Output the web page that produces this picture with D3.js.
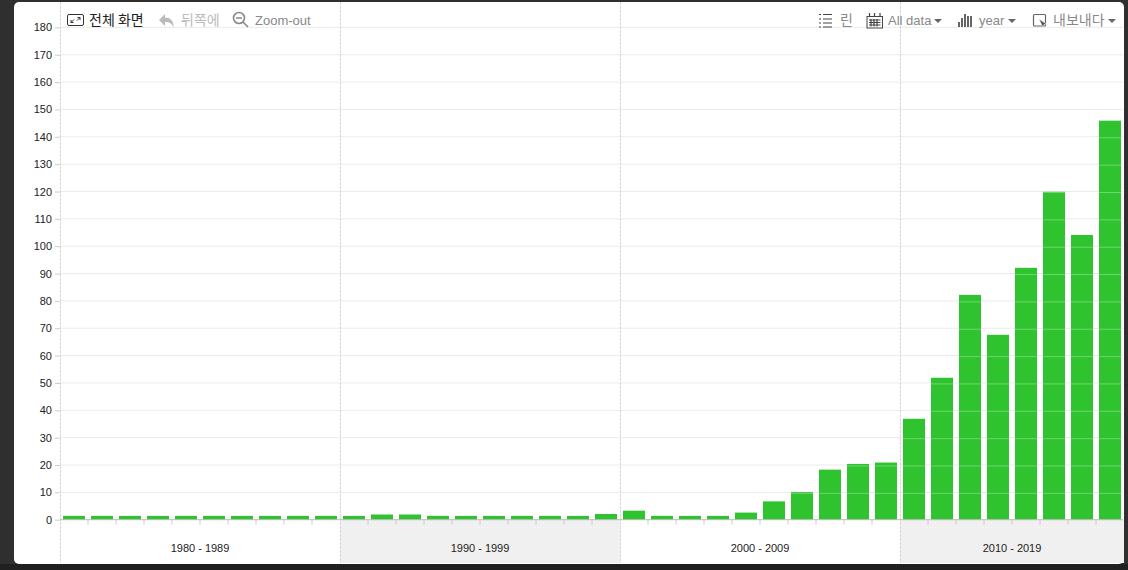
<!DOCTYPE html>
<html>
<head>
<meta charset="utf-8">
<script src="https://cdnjs.cloudflare.com/ajax/libs/d3/7.8.5/d3.min.js"></script>
<style>
  html, body { margin: 0; padding: 0; background: #2f2f2f; overflow: hidden; }
  text { font-family: "Liberation Sans", Arial, sans-serif; }
  .kr { font-family: "Noto Sans CJK KR", sans-serif; }
</style>
</head>
<body>
<div id="canvas"></div>
<script>
// data
const years = d3.range(1980, 2018);
const counts = [
  1.4, 1.4, 1.4, 1.4, 1.4, 1.4, 1.4, 1.4, 1.4, 1.4,
  1.4, 1.9, 1.9, 1.4, 1.4, 1.4, 1.4, 1.4, 1.4, 2.1,
  3.3, 1.4, 1.4, 1.4, 2.6, 6.7, 10.1, 18.3, 20.4, 20.9,
  36.9, 51.9, 82.2, 67.6, 92.1, 119.9, 104.1, 145.9
];
const yTicks = d3.range(0, 190, 10);
const decadeLabels = ['1980 - 1989', '1990 - 1999', '2000 - 2009', '2010 - 2019'];
const decadeStarts = [1980, 1990, 2000, 2010];
const decadeEnds = [1989, 1999, 2009, 2017];

const width = 1128, height = 570;

const svg = d3.select('#canvas').append('svg')
  .attr('width', width)
  .attr('height', height)
  .style('display', 'block');

const defs = svg.append('defs');

// dotted grey of the alternate decade bands
const dots = defs.append('pattern')
  .attr('id', 'dots')
  .attr('width', 4).attr('height', 4)
  .attr('patternUnits', 'userSpaceOnUse');
dots.append('rect').attr('width', 4).attr('height', 4).attr('fill', '#efefef');
dots.append('rect').attr('x', 1).attr('y', 1).attr('width', 1).attr('height', 1).attr('fill', '#f8f8f8');
dots.append('rect').attr('x', 3).attr('y', 3).attr('width', 1).attr('height', 1).attr('fill', '#f8f8f8');

// window background
svg.append('rect').attr('width', width).attr('height', height).attr('fill', '#2f2f2f');
svg.append('rect').attr('y', 564).attr('width', width).attr('height', 6).attr('fill', '#202020');
svg.append('rect')
  .attr('x', 14).attr('y', 2)
  .attr('width', 1110).attr('height', 562)
  .attr('rx', 5)
  .attr('fill', '#fff');

const x = d3.scaleBand()
  .domain(years)
  .range([60, 1124])
  .paddingInner(6 / 28)
  .paddingOuter(3 / 28);

const y = d3.scaleLinear()
  .domain([0, 180])
  .range([519.7, 27.4]);

const bandLeft = d => x(d) - x.step() * x.paddingInner() / 2;
const bandRight = d => bandLeft(d) + x.step();

// shaded decades under the axis
svg.selectAll('.band')
  .data(decadeStarts)
  .enter()
  .append('rect')
  .attr('class', 'band')
  .filter((d, i) => i % 2 == 1)
  .attr('x', d => bandLeft(d))
  .attr('y', y(0))
  .attr('width', d => bandRight(decadeEnds[decadeStarts.indexOf(d)]) - bandLeft(d))
  .attr('height', 563 - y(0))
  .attr('fill', 'url(#dots)');

// horizontal grid
svg.append('g').selectAll('line')
  .data(yTicks.slice(1))
  .enter()
  .append('line')
  .attr('x1', 60).attr('x2', 1123)
  .attr('y1', d => y(d)).attr('y2', d => y(d))
  .attr('stroke', '#ebebeb');

// decade separators
svg.append('g').selectAll('line')
  .data(decadeStarts)
  .enter()
  .append('line')
  .attr('x1', d => bandLeft(d) + 0.5).attr('x2', d => bandLeft(d) + 0.5)
  .attr('y1', 2).attr('y2', 563)
  .attr('stroke', '#d6d6d6')
  .attr('stroke-dasharray', '3,1');

// bars
svg.append('g').selectAll('rect')
  .data(years)
  .enter()
  .append('rect')
  .attr('x', d => x(d))
  .attr('y', (d, i) => y(counts[i]))
  .attr('width', x.bandwidth())
  .attr('height', (d, i) => y(0) - y(counts[i]))
  .attr('fill', '#2fc42f');

// grid shows faintly through the bars, one pixel lower
const clip = defs.append('clipPath').attr('id', 'barclip');
clip.selectAll('rect')
  .data(years)
  .enter()
  .append('rect')
  .attr('x', d => x(d))
  .attr('y', (d, i) => y(counts[i]))
  .attr('width', x.bandwidth())
  .attr('height', (d, i) => y(0) - y(counts[i]));

svg.append('g').attr('clip-path', 'url(#barclip)').selectAll('line')
  .data(yTicks.slice(1))
  .enter()
  .append('line')
  .attr('x1', 60).attr('x2', 1124)
  .attr('y1', d => y(d) + 1).attr('y2', d => y(d) + 1)
  .attr('stroke', '#fff')
  .attr('stroke-opacity', 0.3);

// y axis
const yAxis = svg.append('g')
  .attr('transform', 'translate(60,0)')
  .call(d3.axisLeft(y).tickValues(yTicks).tickSize(5).tickPadding(3));
yAxis.select('.domain').remove();
yAxis.selectAll('line').attr('stroke', '#ccc');
yAxis.selectAll('text')
  .attr('fill', '#222')
  .style('font-size', '11px')
  .style('font-family', '"Liberation Sans", Arial, sans-serif');

// x axis line and year ticks
svg.append('line')
  .attr('x1', 60).attr('x2', 1123)
  .attr('y1', y(0)).attr('y2', y(0))
  .attr('stroke', '#bbb');

svg.append('g').selectAll('line')
  .data(years.filter(d => !decadeStarts.includes(d)))
  .enter()
  .append('line')
  .attr('x1', d => bandLeft(d)).attr('x2', d => bandLeft(d))
  .attr('y1', y(0)).attr('y2', y(0) + 5)
  .attr('stroke', '#ccc');

// decade labels
svg.append('g').selectAll('text')
  .data(decadeLabels)
  .enter()
  .append('text')
  .attr('x', (d, i) => (bandLeft(decadeStarts[i]) + bandRight(decadeEnds[i])) / 2)
  .attr('y', 552)
  .attr('text-anchor', 'middle')
  .attr('font-size', 11)
  .attr('fill', '#222')
  .text(d => d);

// toolbar
const toolbar = svg.append('g');

function label(tx, text, color, kr) {
  toolbar.append('text')
    .attr('class', kr ? 'kr' : null)
    .attr('x', tx).attr('y', 25)
    .attr('font-size', kr ? 14 : 13)
    .attr('fill', color)
    .text(text);
}
function caret(cx) {
  toolbar.append('path')
    .attr('d', `M${cx - 4},19 h8 l-4,4 z`)
    .attr('fill', '#666');
}

// fullscreen icon
toolbar.append('rect').attr('x', 67.5).attr('y', 14.5).attr('width', 16).attr('height', 11).attr('rx', 1.5)
  .attr('fill', 'none').attr('stroke', '#333');
toolbar.append('path').attr('d', 'M71,22.5 l3,-3 M71,22.5 v-2.5 M71,22.5 h2.5 M80,17.5 l-3,3 M80,17.5 v2.5 M80,17.5 h-2.5')
  .attr('fill', 'none').attr('stroke', '#333');
label(89, '전체 화면', '#222', true);

// back arrow icon
toolbar.append('path')
  .attr('d', 'M159,20 l6,-6 v3.5 c5,0 9,3 8.5,10 c-1.5,-4 -4,-5.5 -8.5,-5.5 v4 z')
  .attr('fill', '#bbb');
label(181, '뒤쪽에', '#bbb', true);

// zoom-out icon
toolbar.append('circle').attr('cx', 239).attr('cy', 18).attr('r', 5.5)
  .attr('fill', 'none').attr('stroke', '#888').attr('stroke-width', 1.6);
toolbar.append('path').attr('d', 'M236,18 h6 M243,22 l5,5')
  .attr('fill', 'none').attr('stroke', '#888').attr('stroke-width', 1.6);
label(255, 'Zoom-out', '#888', false);

// list icon
toolbar.append('path')
  .attr('d', 'M819,14.5 h2 M823,14.5 h9 M819,19 h2 M823,19 h9 M819,23 h2 M823,23 h9 M819,27 h2 M823,27 h9')
  .attr('stroke', '#444').attr('stroke-width', 1.2).attr('fill', 'none');
label(840, '린', '#888', true);

// calendar icon
toolbar.append('rect').attr('x', 867).attr('y', 16.5).attr('width', 15.5).attr('height', 11.5)
  .attr('fill', '#fff').attr('stroke', '#444');
toolbar.append('path')
  .attr('d', 'M869.5,13 v4 M874.5,13 v4 M880,13 v4 M869,20 h11.5 M869,22.5 h11.5 M869,25 h11.5 M871,19 v7.5 M874,19 v7.5 M877,19 v7.5')
  .attr('fill', 'none').attr('stroke', '#444').attr('stroke-width', 1.2);
label(888, 'All data', '#888', false);
caret(938);

// bars icon
toolbar.append('path')
  .attr('d', 'M959,27 v-5 M962,27 v-9 M965,27 v-13 M968,27 v-11 M971,27 v-11')
  .attr('fill', 'none').attr('stroke', '#555').attr('stroke-width', 1.8);
label(979, 'year', '#888', false);
caret(1012);

// export icon
toolbar.append('rect').attr('x', 1033.5).attr('y', 14.5).attr('width', 12).attr('height', 11.5).attr('rx', 1)
  .attr('fill', 'none').attr('stroke', '#666').attr('stroke-width', 1.2);
toolbar.append('path').attr('d', 'M1039,19 l7.5,5 -2.5,0.5 -1,3 z').attr('fill', '#555').attr('stroke', '#fff').attr('stroke-width', 0.5);
label(1053, '내보내다', '#888', true);
caret(1112);
</script>
</body>
</html>
